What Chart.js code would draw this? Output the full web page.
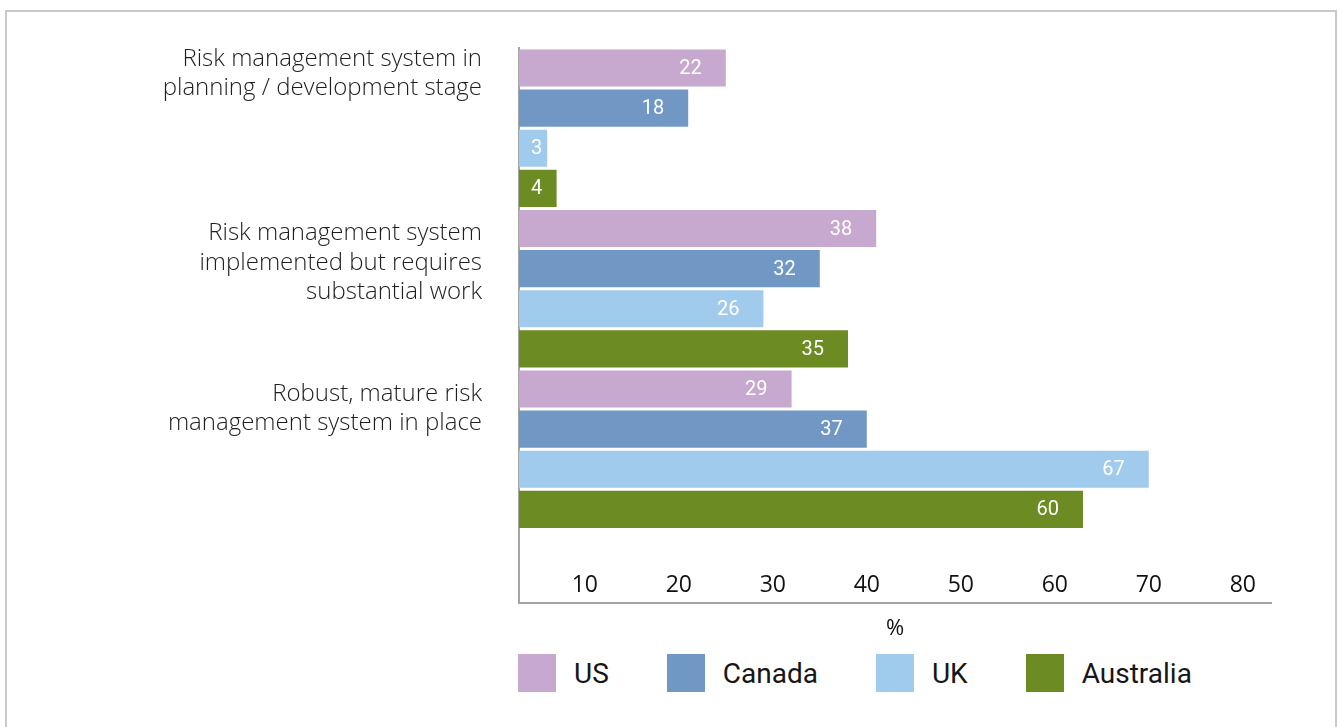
<!DOCTYPE html>
<html>
<head>
<meta charset="utf-8">
<title>Risk management systems by country</title>
<script src="https://cdn.jsdelivr.net/npm/chart.js@4.4.1/dist/chart.umd.min.js"></script>
<style>
  html, body { margin: 0; padding: 0; background: #fff; overflow: hidden; }
  body { width: 1338px; height: 727px; position: relative; }
  .frame { position: absolute; left: 5px; top: 10px; width: 1328px; height: 800px; border: 2px solid #c9c9c9; }
  .chart-box { position: absolute; left: 0; top: 0; width: 1338px; height: 645px; }
  #legend { position: absolute; left: 518px; top: 654px; display: flex; font: 28px Roboto, "Liberation Sans", sans-serif; color: #161616; }
  #legend .item { display: flex; align-items: center; margin-right: 58px; }
  #legend .swatch { width: 38px; height: 38px; margin-right: 18px; }
</style>
</head>
<body>
<div class="frame"></div>
<div class="chart-box"><canvas id="chart"></canvas></div>
<div id="legend"></div>
<script>
const categories = [
  ['Risk management system in', 'planning / development stage'],
  ['Risk management system', 'implemented but requires', 'substantial work'],
  ['Robust, mature risk', 'management system in place']
];
const seriesNames = ['US', 'Canada', 'UK', 'Australia'];
const us = [22, 38, 29];
const canada = [18, 32, 37];
const uk = [3, 26, 67];
const australia = [4, 35, 60];
const xMax = 80;
const xStep = 10;

const values = [us, canada, uk, australia];
const colors = ['#c7a8ce', '#7198c4', '#a0cbec', '#6c8b22'];

// blank lines pushed under each category label to lift it towards its first bars
const labelRaise = [2, 0, 1];

// white value written just inside the end of every bar
const barValues = {
  id: 'barValues',
  afterDatasetsDraw(chart) {
    const { ctx } = chart;
    ctx.save();
    ctx.font = '20px Roboto, sans-serif';
    ctx.fillStyle = '#fff';
    ctx.textAlign = 'right';
    ctx.textBaseline = 'middle';
    chart.data.datasets.forEach((ds, i) => {
      chart.getDatasetMeta(i).data.forEach((bar, j) => {
        const text = String(ds.data[j]);
        const w = ctx.measureText(text).width;
        const right = Math.max(bar.x - 24, bar.base + 12 + w);
        ctx.fillText(text, right, bar.y + 1);
      });
    });
    ctx.restore();
  }
};

const axisColor = '#a5a5a5';

const chart = new Chart(document.getElementById('chart'), {
  type: 'bar',
  data: {
    labels: categories,
    datasets: seriesNames.map((name, i) => ({
      label: name,
      data: values[i],
      backgroundColor: colors[i],
      categoryPercentage: 1,
      barPercentage: 0.925
    }))
  },
  options: {
    indexAxis: 'y',
    responsive: true,
    maintainAspectRatio: false,
    animation: false,
    layout: { padding: { top: 48, right: 67, bottom: 3, left: 0 } },
    plugins: {
      legend: { display: false },
      tooltip: { enabled: false }
    },
    scales: {
      x: {
        min: 0,
        max: xMax,
        grid: { display: false, drawTicks: false },
        border: { color: axisColor, width: 2 },
        ticks: {
          stepSize: xStep,
          mirror: true,
          padding: 3,
          align: 'end',
          labelOffset: -15,
          color: '#111',
          font: { family: '"Open Sans", sans-serif', size: 23 },
          callback: v => (v === 0 ? '' : v)
        },
        title: {
          display: true,
          text: '%',
          color: '#111',
          font: { family: '"Open Sans", sans-serif', size: 22 },
          padding: { top: 7, bottom: 0 }
        }
      },
      y: {
        stack: 'rows',
        stackWeight: 480,
        weight: 1,
        grid: { display: false, drawTicks: false },
        border: { color: axisColor, width: 2 },
        ticks: {
          padding: 37,
          autoSkip: false,
          labelOffset: -26,
          color: '#1e1e1e',
          font: { family: '"Open Sans", sans-serif', size: 24, weight: 300, lineHeight: 1.21 },
          callback(v, i) {
            return this.getLabelForValue(v).concat(Array(labelRaise[i]).fill(''));
          }
        },
        // fixed label column; the tall labels must not push the plot inward
        afterFit(scale) {
          scale.width = 519;
          scale.paddingTop = 0;
          scale.paddingBottom = 0;
        }
      },
      // empty strip under the last group so the axis runs down to the % scale
      y2: {
        type: 'linear',
        position: 'left',
        stack: 'rows',
        stackWeight: 73,
        weight: 0,
        grid: { display: false, drawTicks: false },
        ticks: { display: false },
        border: { color: axisColor, width: 2 }
      }
    }
  },
  plugins: [barValues]
});

const legendEl = document.getElementById('legend');
chart.data.datasets.forEach(ds => {
  const item = document.createElement('span');
  item.className = 'item';
  const swatch = document.createElement('span');
  swatch.className = 'swatch';
  swatch.style.background = ds.backgroundColor;
  item.appendChild(swatch);
  item.appendChild(document.createTextNode(ds.label));
  legendEl.appendChild(item);
});
</script>
</body>
</html>
